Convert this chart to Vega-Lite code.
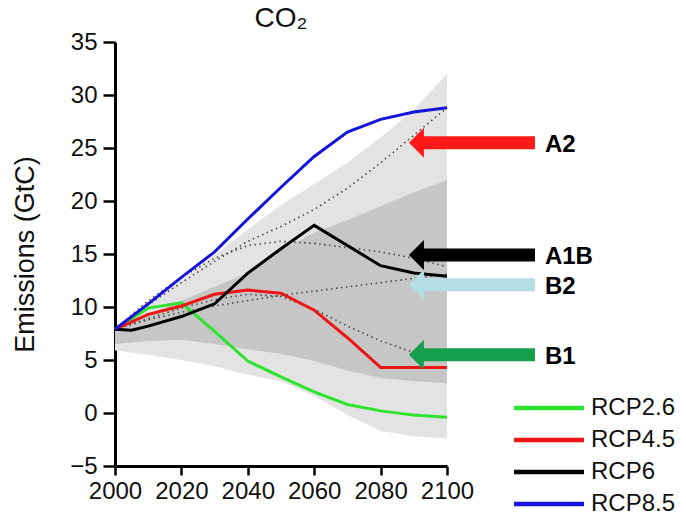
{
  "$schema": "https://vega.github.io/schema/vega-lite/v6.json",
  "width": 332,
  "height": 424,
  "autosize": {"type": "none"},
  "padding": {"left": 115, "top": 42, "right": 239, "bottom": 49},
  "background": "white",
  "title": {"text": "CO₂", "fontSize": 28, "font": "Liberation Sans", "fontWeight": "normal", "anchor": "middle", "color": "#111", "offset": -3},
  "config": {
    "view": {"stroke": null},
    "axis": {
      "grid": false,
      "domainColor": "#000",
      "domainWidth": 3,
      "tickColor": "#000",
      "tickWidth": 2.5,
      "labelFont": "Liberation Sans",
      "labelFontSize": 24,
      "labelColor": "#111",
      "titleFont": "Liberation Sans",
      "titleFontSize": 27,
      "titleFontWeight": "normal",
      "titleColor": "#111"
    }
  },
  "datasets": {
    "bands": [
      {"year": 2000, "lLo": 5.9, "lHi": 7.9, "dLo": 6.5, "dHi": 7.9},
      {"year": 2010, "lLo": 5.5, "lHi": 10.2, "dLo": 6.8, "dHi": 9.3},
      {"year": 2020, "lLo": 5.0, "lHi": 12.5, "dLo": 6.9, "dHi": 10.6},
      {"year": 2030, "lLo": 4.4, "lHi": 14.9, "dLo": 6.5, "dHi": 11.9},
      {"year": 2040, "lLo": 3.6, "lHi": 17.3, "dLo": 6.0, "dHi": 13.2},
      {"year": 2050, "lLo": 3.0, "lHi": 19.6, "dLo": 5.6, "dHi": 15.4},
      {"year": 2060, "lLo": 1.6, "lHi": 21.6, "dLo": 4.9, "dHi": 17.0},
      {"year": 2070, "lLo": -0.2, "lHi": 23.6, "dLo": 4.0, "dHi": 18.2},
      {"year": 2080, "lLo": -1.7, "lHi": 26.0, "dLo": 3.3, "dHi": 19.5},
      {"year": 2090, "lLo": -2.2, "lHi": 28.6, "dLo": 3.0, "dHi": 20.8},
      {"year": 2100, "lLo": -2.4, "lHi": 32.0, "dLo": 2.8, "dHi": 22.0}
    ],
    "sres": [
      {"scen": "A2", "year": 2000, "value": 7.9},
      {"scen": "A2", "year": 2010, "value": 10.2},
      {"scen": "A2", "year": 2020, "value": 12.3},
      {"scen": "A2", "year": 2030, "value": 14.3},
      {"scen": "A2", "year": 2040, "value": 16.2},
      {"scen": "A2", "year": 2050, "value": 17.6},
      {"scen": "A2", "year": 2060, "value": 19.2},
      {"scen": "A2", "year": 2070, "value": 21.2},
      {"scen": "A2", "year": 2080, "value": 23.6},
      {"scen": "A2", "year": 2090, "value": 26.2},
      {"scen": "A2", "year": 2100, "value": 28.8},
      {"scen": "A1B", "year": 2000, "value": 7.9},
      {"scen": "A1B", "year": 2010, "value": 10.6},
      {"scen": "A1B", "year": 2020, "value": 12.8},
      {"scen": "A1B", "year": 2030, "value": 14.6},
      {"scen": "A1B", "year": 2040, "value": 15.8},
      {"scen": "A1B", "year": 2050, "value": 16.2},
      {"scen": "A1B", "year": 2060, "value": 16.0},
      {"scen": "A1B", "year": 2070, "value": 15.6},
      {"scen": "A1B", "year": 2080, "value": 15.2},
      {"scen": "A1B", "year": 2090, "value": 14.6},
      {"scen": "A1B", "year": 2100, "value": 13.8},
      {"scen": "B2", "year": 2000, "value": 7.9},
      {"scen": "B2", "year": 2010, "value": 8.8},
      {"scen": "B2", "year": 2020, "value": 9.5},
      {"scen": "B2", "year": 2030, "value": 10.1},
      {"scen": "B2", "year": 2040, "value": 10.6},
      {"scen": "B2", "year": 2050, "value": 11.1},
      {"scen": "B2", "year": 2060, "value": 11.5},
      {"scen": "B2", "year": 2070, "value": 11.9},
      {"scen": "B2", "year": 2080, "value": 12.3},
      {"scen": "B2", "year": 2090, "value": 12.7},
      {"scen": "B2", "year": 2100, "value": 13.1},
      {"scen": "B1", "year": 2000, "value": 7.9},
      {"scen": "B1", "year": 2010, "value": 8.9},
      {"scen": "B1", "year": 2020, "value": 9.9},
      {"scen": "B1", "year": 2030, "value": 10.7},
      {"scen": "B1", "year": 2040, "value": 11.2},
      {"scen": "B1", "year": 2050, "value": 11.0},
      {"scen": "B1", "year": 2060, "value": 9.8},
      {"scen": "B1", "year": 2070, "value": 8.2},
      {"scen": "B1", "year": 2080, "value": 6.8},
      {"scen": "B1", "year": 2090, "value": 5.7},
      {"scen": "B1", "year": 2100, "value": 4.9}
    ],
    "rcp": [
      {"series": "RCP2.6", "year": 2000, "value": 7.9},
      {"series": "RCP2.6", "year": 2005, "value": 8.9},
      {"series": "RCP2.6", "year": 2010, "value": 9.9},
      {"series": "RCP2.6", "year": 2020, "value": 10.4},
      {"series": "RCP2.6", "year": 2030, "value": 7.7},
      {"series": "RCP2.6", "year": 2040, "value": 4.9},
      {"series": "RCP2.6", "year": 2050, "value": 3.4},
      {"series": "RCP2.6", "year": 2060, "value": 2.0},
      {"series": "RCP2.6", "year": 2070, "value": 0.8},
      {"series": "RCP2.6", "year": 2080, "value": 0.2},
      {"series": "RCP2.6", "year": 2090, "value": -0.2},
      {"series": "RCP2.6", "year": 2100, "value": -0.4},
      {"series": "RCP4.5", "year": 2000, "value": 7.9},
      {"series": "RCP4.5", "year": 2010, "value": 9.3},
      {"series": "RCP4.5", "year": 2020, "value": 10.1},
      {"series": "RCP4.5", "year": 2030, "value": 11.2},
      {"series": "RCP4.5", "year": 2040, "value": 11.6},
      {"series": "RCP4.5", "year": 2050, "value": 11.3},
      {"series": "RCP4.5", "year": 2060, "value": 9.7},
      {"series": "RCP4.5", "year": 2070, "value": 7.1},
      {"series": "RCP4.5", "year": 2080, "value": 4.3},
      {"series": "RCP4.5", "year": 2090, "value": 4.3},
      {"series": "RCP4.5", "year": 2100, "value": 4.3},
      {"series": "RCP6", "year": 2000, "value": 7.9},
      {"series": "RCP6", "year": 2005, "value": 7.8},
      {"series": "RCP6", "year": 2010, "value": 8.2},
      {"series": "RCP6", "year": 2020, "value": 9.1},
      {"series": "RCP6", "year": 2030, "value": 10.3},
      {"series": "RCP6", "year": 2040, "value": 13.2},
      {"series": "RCP6", "year": 2050, "value": 15.5},
      {"series": "RCP6", "year": 2060, "value": 17.7},
      {"series": "RCP6", "year": 2070, "value": 15.8},
      {"series": "RCP6", "year": 2080, "value": 13.9},
      {"series": "RCP6", "year": 2090, "value": 13.2},
      {"series": "RCP6", "year": 2100, "value": 12.9},
      {"series": "RCP8.5", "year": 2000, "value": 7.9},
      {"series": "RCP8.5", "year": 2010, "value": 10.3},
      {"series": "RCP8.5", "year": 2020, "value": 12.8},
      {"series": "RCP8.5", "year": 2030, "value": 15.2},
      {"series": "RCP8.5", "year": 2040, "value": 18.3},
      {"series": "RCP8.5", "year": 2050, "value": 21.3},
      {"series": "RCP8.5", "year": 2060, "value": 24.2},
      {"series": "RCP8.5", "year": 2070, "value": 26.5},
      {"series": "RCP8.5", "year": 2080, "value": 27.7},
      {"series": "RCP8.5", "year": 2090, "value": 28.4},
      {"series": "RCP8.5", "year": 2100, "value": 28.8}
    ],
    "arrows": [
      {"scen": "A2", "level": 25.5},
      {"scen": "A1B", "level": 14.9},
      {"scen": "B2", "level": 12.1},
      {"scen": "B1", "level": 5.5}
    ]
  },
  "resolve": {"scale": {"color": "independent"}},
  "layer": [
    {
      "data": {"name": "bands"},
      "mark": {"type": "area", "color": "#e3e3e3"},
      "encoding": {
        "x": {
          "field": "year", "type": "quantitative",
          "scale": {"domain": [2000, 2100], "nice": false, "zero": false},
          "axis": {
            "title": null,
            "values": [2000, 2010, 2020, 2030, 2040, 2050, 2060, 2070, 2080, 2090, 2100],
            "format": "d",
            "labelExpr": "datum.value % 20 === 0 ? datum.label : ''",
            "tickSize": {"condition": {"test": "datum.value % 20 === 0", "value": 9}, "value": 5},
            "labelPadding": 4,
            "labelOverlap": false,
            "labelFlush": false
          }
        },
        "y": {
          "field": "lLo", "type": "quantitative",
          "scale": {"domain": [-5, 35], "nice": false, "zero": false},
          "axis": {
            "title": "Emissions (GtC)",
            "values": [-5, -2.5, 0, 2.5, 5, 7.5, 10, 12.5, 15, 17.5, 20, 22.5, 25, 27.5, 30, 32.5, 35],
            "labelExpr": "datum.value % 5 === 0 ? datum.label : ''",
            "tickSize": {"condition": {"test": "datum.value % 5 === 0", "value": 12}, "value": 7},
            "labelPadding": 6,
            "labelOverlap": false,
            "labelFlush": false,
            "titleX": -90,
            "titleY": 212,
            "titleBaseline": "middle",
            "titleAlign": "center"
          }
        },
        "y2": {"field": "lHi"}
      }
    },
    {
      "data": {"name": "bands"},
      "mark": {"type": "area", "color": "#c6c6c6"},
      "encoding": {
        "x": {"field": "year", "type": "quantitative"},
        "y": {"field": "dLo", "type": "quantitative"},
        "y2": {"field": "dHi"}
      }
    },
    {
      "data": {"name": "sres"},
      "mark": {"type": "line", "color": "#4a4a4a", "strokeWidth": 1.6, "strokeDash": [1.5, 3.5]},
      "encoding": {
        "x": {"field": "year", "type": "quantitative"},
        "y": {"field": "value", "type": "quantitative"},
        "detail": {"field": "scen"}
      }
    },
    {
      "mark": {"type": "rule", "color": "#000", "strokeWidth": 2.5},
      "encoding": {
        "x": {"datum": 2000},
        "x2": {"datum": 2100},
        "y": {"datum": 0}
      }
    },
    {
      "data": {"name": "rcp"},
      "mark": {"type": "line", "strokeWidth": 3},
      "encoding": {
        "x": {"field": "year", "type": "quantitative"},
        "y": {"field": "value", "type": "quantitative"},
        "color": {
          "field": "series", "type": "nominal",
          "scale": {"domain": ["RCP2.6", "RCP4.5", "RCP6", "RCP8.5"], "range": ["#2de42d", "#ee1515", "#000000", "#1414dc"]},
          "legend": {
            "orient": "none",
            "legendX": 422,
            "legendY": 354,
            "title": null,
            "symbolType": "M-5,0L5,0",
            "symbolSize": 196,
            "symbolStrokeWidth": 4.5,
            "labelFont": "Liberation Sans",
            "labelFontSize": 24,
            "labelColor": "#111",
            "labelOffset": 30,
            "rowPadding": 8
          }
        }
      }
    },
    {
      "data": {"name": "arrows"},
      "mark": {"type": "rule", "strokeWidth": 13, "strokeCap": "butt"},
      "encoding": {
        "x": {"datum": 2092.5},
        "x2": {"datum": 2126.5},
        "y": {"field": "level", "type": "quantitative"},
        "color": {
          "field": "scen", "type": "nominal",
          "scale": {"domain": ["A2", "A1B", "B2", "B1"], "range": ["#ff1a1a", "#000000", "#b3dfe4", "#17a04c"]},
          "legend": null
        }
      }
    },
    {
      "data": {"name": "arrows"},
      "mark": {"type": "point", "shape": "M0.5,-1L-0.5,0L0.5,1Z", "filled": true, "opacity": 1, "size": 900},
      "encoding": {
        "x": {"datum": 2090.8},
        "y": {"field": "level", "type": "quantitative"},
        "color": {
          "field": "scen", "type": "nominal",
          "scale": {"domain": ["A2", "A1B", "B2", "B1"], "range": ["#ff1a1a", "#000000", "#b3dfe4", "#17a04c"]},
          "legend": null
        }
      }
    },
    {
      "data": {"name": "arrows"},
      "mark": {"type": "text", "align": "left", "baseline": "middle", "dy": 2, "font": "Liberation Sans", "fontWeight": "bold", "fontSize": 24, "color": "#000"},
      "encoding": {
        "x": {"datum": 2129.5},
        "y": {"field": "level", "type": "quantitative"},
        "text": {"field": "scen"}
      }
    }
  ]
}
